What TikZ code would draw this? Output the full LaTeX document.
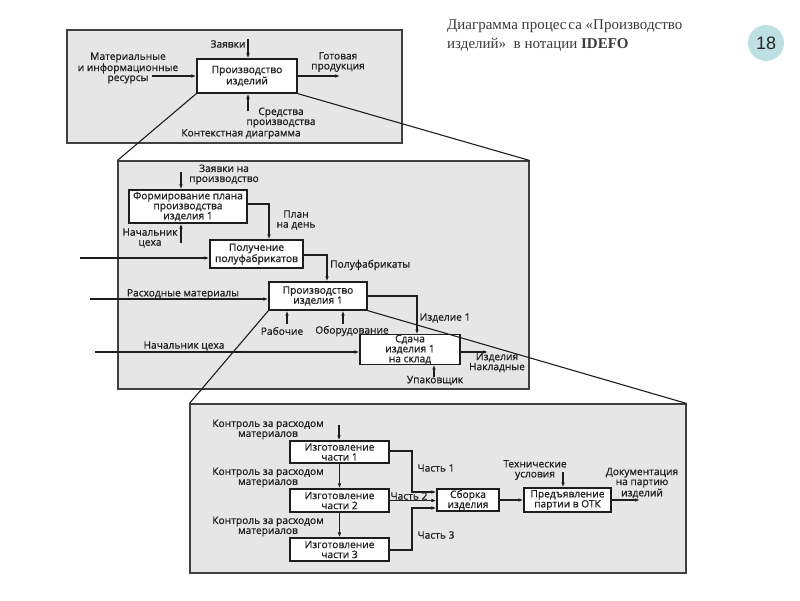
\documentclass[tikz,border=0pt]{standalone}
\usepackage{fontspec}
\usetikzlibrary{arrows.meta,calc}
\newfontfamily\lblfont{Open Sans}[BoldFont={Open Sans},BoldFeatures={FakeBold=0.8}]
\newfontfamily\ttlfont{Liberation Serif}
\newfontfamily\numfont{Liberation Sans}
\newcommand\dfont{\lblfont\bfseries\fontsize{10.2}{10}\selectfont}
\definecolor{ln}{HTML}{1E1E1E}
\definecolor{txt}{HTML}{202020}
\definecolor{frm}{HTML}{E6E6E6}
\definecolor{ttl}{HTML}{3A3A3A}
\definecolor{badge}{HTML}{BEE0E2}
\tikzset{
  lbl/.style={font=\dfont, align=center, inner sep=0pt, text=txt},
  box/.style={draw=ln, fill=white, line width=1.2pt, inner sep=0pt, align=center, font=\dfont, text=txt},
  frame/.style={draw=ln!85, fill=frm, line width=1.1pt, inner sep=0pt},
  arr/.style={draw=ln, line width=1.1pt, -{Latex[length=5pt,width=3.6pt]}},
  ln/.style={draw=ln, line width=1.1pt},
}
\begin{document}
\begin{tikzpicture}[x=1pt,y=-1pt]
\useasboundingbox[fill=white] (0,0) rectangle (800,600);

% ---------- frames ----------
\node[frame, minimum width=335, minimum height=113] (F1) at (234.5,86.5) {};
\node[frame, minimum width=411, minimum height=228] (F2) at (323.5,275) {};
\node[frame, minimum width=496, minimum height=169] (F3) at (438,488.5) {};

% ---------- context diagram ----------
\node[box, minimum width=100, minimum height=34] (A) at (247,76) {Производство\\изделий};
\coordinate (Actl) at (248,39);
\coordinate (Ain) at (152,76);
\coordinate (Aout) at (340,76);
\coordinate (Amech) at (248,111);
\draw[arr] (Actl) -- (Actl |- A.north);
\draw[arr] (Ain) -- (Ain -| A.west);
\draw[arr] (A.east |- Aout) -- (Aout);
\draw[arr] (Amech) -- (Amech |- A.south);
\node[lbl] (tA1) at (228,44) {Заявки};
\node[lbl] (tA2) at (128,68) {Материальные\\и информационные\\ресурсы};
\node[lbl] (tA3) at (338,62) {Готовая\\продукция};
\node[lbl] (tA4) at (281,117.5) {Средства\\производства};
\node[lbl] (tA5) at (241,134) {Контекстная диаграмма};

% ---------- decomposition ----------
\node[box, minimum width=118, minimum height=33] (B1) at (188,206.5) {Формирование плана\\производства\\изделия 1};
\node[box, minimum width=93, minimum height=28] (B2) at (256.5,254) {Получение\\полуфабрикатов};
\node[box, minimum width=98, minimum height=28] (B3) at (318,296) {Производство\\изделия 1};
\node[box, minimum width=100, minimum height=29] (B4) at (410,349.5) {Сдача\\изделия 1\\на склад};

\coordinate (B1c) at (181,172);
\coordinate (B1m) at (181,243);
\coordinate (B1o) at (269,204);
\coordinate (B2i) at (80,258);
\coordinate (B2o) at (327,255);
\coordinate (B3i) at (90,299);
\coordinate (B3m1) at (287,324);
\coordinate (B3m2) at (343,324);
\coordinate (B3o) at (417,296);
\coordinate (B4i) at (95,352);
\coordinate (B4o) at (488,352);
\coordinate (B4m) at (434,377);

\draw[arr] (B1c) -- (B1c |- B1.north);
\draw[arr] (B1m) -- (B1m |- B1.south);
\draw[arr] (B1.east |- B1o) -- (B1o) -- (B1o |- B2.north);
\draw[arr] (B2i) -- (B2i -| B2.west);
\draw[arr] (B2.east |- B2o) -- (B2o) -- (B2o |- B3.north);
\draw[arr] (B3i) -- (B3i -| B3.west);
\draw[arr] (B3m1) -- (B3m1 |- B3.south);
\draw[arr] (B3m2) -- (B3m2 |- B3.south);
\draw[arr] (B3.east |- B3o) -- (B3o) -- (B3o |- B4.north);
\draw[arr] (B4i) -- (B4i -| B4.west);
\draw[arr] (B4.east |- B4o) -- (B4o);
\draw[arr] (B4m) -- (B4m |- B4.south);

\node[lbl] (tB1) at (224,174.5) {Заявки на\\производство};
\node[lbl] (tB2) at (150,238) {Начальник\\цеха};
\node[lbl] (tB3) at (296,220) {План\\на день};
\node[lbl, anchor=west] (tB4) at (330,265) {Полуфабрикаты};
\node[lbl] (tB5) at (183,294) {Расходные материалы};
\node[lbl] (tB6) at (282,331) {Рабочие};
\node[lbl] (tB7) at (352,331) {Оборудование};
\node[lbl] (tB8) at (445,318) {Изделие 1};
\node[lbl] (tB9) at (184,346) {Начальник цеха};
\node[lbl] (tB10) at (497,362.5) {Изделия\\Накладные};
\node[lbl] (tB11) at (435,380.5) {Упаковщик};

% ---------- detail ----------
\node[box, minimum width=99, minimum height=22] (C1) at (339.5,452) {Изготовление\\части 1};
\node[box, minimum width=99, minimum height=23] (C2) at (339.5,500.5) {Изготовление\\части 2};
\node[box, minimum width=99, minimum height=23] (C3) at (339.5,549.5) {Изготовление\\части 3};
\node[box, minimum width=62, minimum height=22] (C4) at (468,500) {Сборка\\изделия};
\node[box, minimum width=87, minimum height=24] (C5) at (567.5,500) {Предъявление\\партии в ОТК};

\coordinate (C1c) at (339,425);
\coordinate (J1) at (412,451);
\coordinate (J3) at (412,550);
\coordinate (C4a) at (437,492);
\coordinate (C4b) at (437,508);
\coordinate (C5c) at (563,472);
\coordinate (C5o) at (640,500);

\draw[arr] (C1c) -- (C1c |- C1.north);
\draw[arr] (C1.south) -- (C2.north);
\draw[arr] (C2.south) -- (C3.north);
\draw[arr] (C1.east |- J1) -- (J1) -- (J1 |- C4a) -- (C4a -| C4.west);
\draw[arr] (C2.east) -- (C2.east -| C4.west);
\draw[arr] (C3.east |- J3) -- (J3) -- (J3 |- C4b) -- (C4b -| C4.west);
\draw[arr] (C4.east) -- (C4.east -| C5.west);
\draw[arr] (C5c) -- (C5c |- C5.north);
\draw[arr] (C5.east) -- (C5o);

\node[lbl] (tC1) at (268,429.5) {Контроль за расходом\\материалов};
\node[lbl] (tC2) at (268,477.5) {Контроль за расходом\\материалов};
\node[lbl] (tC3) at (268,526.5) {Контроль за расходом\\материалов};
\node[lbl] (tC4) at (436,468) {Часть 1};
\node[lbl] (tC5) at (409,496) {Часть 2};
\node[lbl] (tC6) at (436,535) {Часть 3};
\node[lbl] (tC7) at (535,470) {Технические\\условия};
\node[lbl] (tC8) at (642,483) {Документация\\на партию\\изделий};

% ---------- zoom lines ----------
\draw[ln] (A.south west) -- (F2.north west);
\draw[ln] (A.south east) -- (F2.north east);
\draw[ln] (B3.south west) -- (F3.north west);
\draw[ln] (B3.south east) -- (F3.north east);

% ---------- title and badge ----------
\node[anchor=base west, align=left, inner sep=0pt, text=ttl, font=\ttlfont\fontsize{15}{19}\selectfont] (title) at (447,48)
  {Диаграмма процес\kern2pt са «Производство\\изделий» \ в нотации \textbf{IDEFO}};
\node[circle, fill=badge, minimum size=36, inner sep=0pt, text=black!85, font=\numfont\fontsize{18}{18}\selectfont] (num) at (766,43) {18};
\end{tikzpicture}
\end{document}
